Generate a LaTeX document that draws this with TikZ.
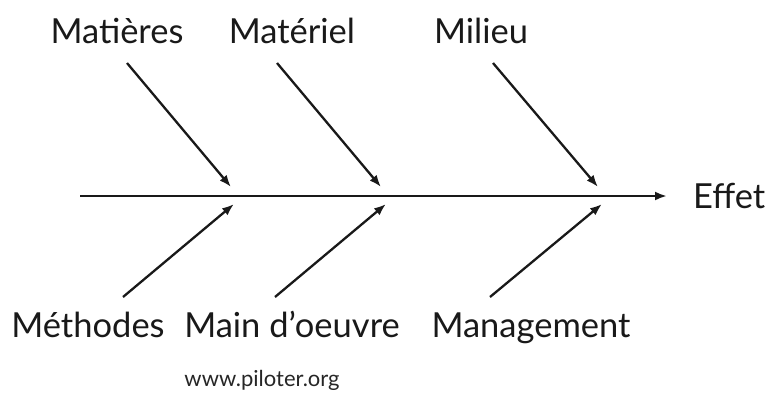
\documentclass[tikz,border=0pt]{standalone}
\usepackage{fontspec}
\setmainfont{Lato}
\usetikzlibrary{arrows.meta}
\begin{document}
\begin{tikzpicture}[x=1pt,y=-1pt,
  lbl/.style={inner sep=0pt,anchor=base,font=\fontsize{34.5}{38}\selectfont,text=black!90},
  bone/.style={line width=2.3pt,draw=black!90,-{Latex[length=12pt,width=9pt]}},
  spine/.style={line width=2.5pt,draw=black!90,-{Latex[length=12pt,width=9pt]}}]
\useasboundingbox (0,0) rectangle (765,392);
% causes above the spine
\node[lbl] (matieres) at (117,43) {Matières};
\node[lbl] (materiel) at (292,43) {Matériel};
\node[lbl] (milieu)   at (481,43) {Milieu};
% causes below the spine
\node[lbl] (methodes)   at (88,337)  {Méthodes};
\node[lbl] (mainoeuvre) at (292,337) {Main d’oeuvre};
\node[lbl] (management) at (531,337) {Management};
% effect
\node[lbl,anchor=base west] (effet) at (693,208) {Effet};
\node[inner sep=0pt,anchor=base,font=\fontsize{22}{24}\selectfont,text=black!85] (url) at (262,386) {www.piloter.org};
% spine
\coordinate (tail) at (80,196);
\coordinate (head) at (667,196);
\draw[spine] (tail) -- (head);
% bone end points
\coordinate (s1) at (127,63);  \coordinate (e1) at (231,187);
\coordinate (s2) at (277,63);  \coordinate (e2) at (381,187);
\coordinate (s3) at (493,63);  \coordinate (e3) at (598,187);
\coordinate (s4) at (123,297); \coordinate (e4) at (234,204);
\coordinate (s5) at (275,297); \coordinate (e5) at (386,204);
\coordinate (s6) at (490,297); \coordinate (e6) at (602,204);
\draw[bone] (s1) -- (e1);
\draw[bone] (s2) -- (e2);
\draw[bone] (s3) -- (e3);
\draw[bone] (s4) -- (e4);
\draw[bone] (s5) -- (e5);
\draw[bone] (s6) -- (e6);
\end{tikzpicture}
\end{document}
